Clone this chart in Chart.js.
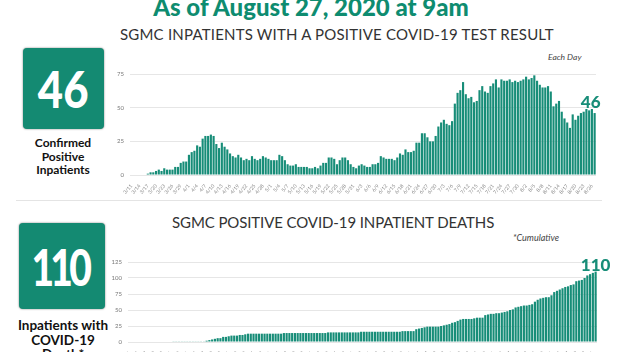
<!DOCTYPE html>
<html>
<head>
<meta charset="utf-8">
<script src="https://cdn.jsdelivr.net/npm/chart.js@4"></script>
<style>
  body { margin: 0; width: 622px; height: 352px; overflow: hidden; background: #fff; font-family: Lato, sans-serif; position: relative; }
  .abs { position: absolute; white-space: nowrap; }
  .box { position: absolute; background: #148a72; border-radius: 4px; box-shadow: 0 0 2px #777; color: #fff; font-weight: 900; text-align: center; }
  .box span { display: inline-block; }
  .cap { position: absolute; text-align: center; font-weight: 700; color: #111; }
  .sub { font-size: 15px; color: #333; }
  canvas { position: absolute; }
</style>
</head>
<body>
<div class="abs" style="left:0;width:622px;text-align:center;top:-5px;font-size:24px;font-weight:900;color:#0e8c70;line-height:24px;">As of August 27, 2020 at 9am</div>
<div class="abs sub" style="left:120px;width:426px;text-align:center;top:25px;letter-spacing:0.2px;">SGMC INPATIENTS WITH A POSITIVE COVID-19 TEST RESULT</div>
<div class="abs" style="left:548px;top:52px;font-size:8.5px;font-style:italic;color:#444;">Each Day</div>

<div class="box" style="left:23px;top:48px;width:81px;height:81px;font-size:52px;line-height:81px;"><span style="transform:scaleX(0.84);">46</span></div>
<div class="cap" style="left:13px;width:100px;top:136px;font-size:12px;line-height:13.5px;">Confirmed<br>Positive<br>Inpatients</div>

<div class="abs" style="left:16px;top:200px;width:586px;height:1px;background:#e4e4e4;"></div>

<div class="abs sub" style="left:172px;width:320px;text-align:center;top:213px;letter-spacing:-0.1px;">SGMC POSITIVE COVID-19 INPATIENT DEATHS</div>
<div class="abs" style="left:513px;top:232px;font-size:9px;font-style:italic;color:#444;">*Cumulative</div>

<div class="box" style="left:19px;top:223px;width:86px;height:86px;font-size:52px;line-height:86px;"><span style="letter-spacing:-5px;transform:scaleX(0.75);margin-left:-5px;">110</span></div>
<div class="cap" style="left:5px;width:116px;top:318px;font-size:13.5px;line-height:14.5px;">Inpatients with<br>COVID-19<br>Death*</div>

<canvas id="inpatients"></canvas>
<canvas id="deaths"></canvas>

<script>
// first day shown, number of days (through 8/27)
const startDate = new Date(2020, 2, 11);
const dayCount = 170;

const inpatients = [
    0, 0, 0, 0, 0, 0,
    1, 2, 2, 3, 4, 3, 5, 4, 4, 4,
    6, 6, 9, 10, 10, 15, 17, 18, 22, 21,
    27, 29, 29, 30, 29, 23, 20, 24, 21, 19,
    16, 14, 13, 15, 13, 11, 12, 11, 14, 12,
    11, 12, 14, 13, 12, 11, 11, 11, 15, 14,
    11, 8, 7, 7, 8, 6, 6, 6, 6, 5,
    5, 6, 5, 7, 9, 9, 13, 13, 12, 8,
    11, 13, 13, 11, 8, 6, 5, 7, 8, 7,
    6, 6, 8, 8,
    9,
    14, 13, 12, 12, 12, 11, 13, 16, 15,
    19, 17, 17, 18, 24, 24, 31, 31, 28, 25,
    25, 29, 36, 39, 41, 38, 37, 40, 53, 61,
    63, 69, 60, 57, 58, 54, 55, 63, 66, 62,
    61, 66, 68, 71, 65, 71, 70, 70, 71, 69,
    70, 69, 70, 71, 73, 71, 72, 74, 70, 67,
    65, 65, 66, 62, 51, 53, 55, 47, 42, 39,
    35, 45, 41, 44, 46, 47, 49, 48, 49, 46
];

const deaths = [
    0, 0, 0, 0, 0, 0, 0, 0, 0, 0, 0, 0, 0, 0, 0, 0,
    1, 1, 1, 1, 1, 1, 1, 1, 1, 1, 1, 1,
    2, 3, 4, 5, 6, 6, 8, 8, 9, 10, 10, 10, 11, 11, 12,
    13, 13, 13, 13, 13, 13, 13, 13, 13, 13, 13, 13, 13,
    14, 14, 14, 14, 14, 14, 14, 14, 14, 14, 14, 14, 14, 14, 14, 14,
    15, 15, 15, 15, 15, 15, 15, 15, 15, 15, 15, 15,
    16, 16, 16, 16, 16, 16, 16, 16, 16, 16, 16, 16, 16, 16, 16,
    17, 17, 17, 17, 17,
    20, 21, 22, 23, 24, 24, 24, 24, 24, 25, 26, 27, 28, 30, 31, 33,
    35, 36, 36, 36, 36, 37, 38, 38, 38, 42,
    43, 44, 44, 45, 45, 46, 47, 48, 50, 51, 54, 55, 56, 57, 57, 58, 59, 63, 66,
    68, 69, 70, 70, 73, 78, 80, 82, 84, 86, 87, 89, 90, 95, 96, 97, 100, 104, 106, 108, 110
];

const dayLabels = [];
for (let i = 0; i < dayCount; i++) {
    const d = new Date(startDate.getTime() + i * 86400000);
    dayLabels.push((d.getMonth() + 1) + '/' + d.getDate());
}

const teal = '#178d78';

// writes the last value above the last bar
const lastValueLabel = {
    id: 'lastValueLabel',
    afterDatasetsDraw(chart, args, opts) {
        const meta = chart.getDatasetMeta(0);
        const bar = meta.data[meta.data.length - 1];
        const ctx = chart.ctx;
        ctx.save();
        ctx.fillStyle = teal;
        ctx.font = '900 17px Lato';
        ctx.textAlign = 'center';
        ctx.textBaseline = 'alphabetic';
        ctx.fillText(opts.text, bar.x + opts.dx, bar.y + opts.dy);
        ctx.restore();
    }
};

function makeConfig(values, yMax, xHeight, pad, labelText, dx, dy) {
    return {
        type: 'bar',
        data: {
            labels: dayLabels,
            datasets: [
                {
                    data: values,
                    backgroundColor: teal,
                    barPercentage: 0.78,
                    categoryPercentage: 1.0
                }
            ]
        },
        options: {
            responsive: false,
            animation: false,
            layout: { padding: pad },
            plugins: {
                legend: { display: false },
                tooltip: { enabled: false },
                lastValueLabel: { text: labelText, dx: dx, dy: dy }
            },
            scales: {
                x: {
                    grid: { display: false },
                    border: { display: false },
                    afterFit: (s) => { s.height = xHeight; },
                    ticks: {
                        autoSkip: false,
                        minRotation: 50,
                        maxRotation: 50,
                        padding: 0,
                        font: { size: 5, family: 'Lato' },
                        color: '#888',
                        callback: (v, i) => (i % 3 === 0 ? dayLabels[i] : '')
                    }
                },
                y: {
                    min: 0,
                    max: yMax,
                    border: { display: false },
                    grid: { color: '#e6e6e6', lineWidth: 1, drawTicks: false },
                    afterFit: (s) => { s.width = 35; },
                    ticks: {
                        stepSize: 25,
                        padding: 6,
                        font: { size: 6, family: 'Lato' },
                        color: '#777'
                    }
                }
            }
        },
        plugins: [lastValueLabel]
    };
}

const c1 = document.getElementById('inpatients');
c1.width = 527; c1.height = 130;
c1.style.left = '95px'; c1.style.top = '64px';

const c2 = document.getElementById('deaths');
c2.width = 529; c2.height = 110;
c2.style.left = '93px'; c2.style.top = '252px';

new Chart(c1, makeConfig(inpatients, 75, 19, { top: 10, right: 26, bottom: 0, left: 0 }, '46', -4, -5));
new Chart(c2, makeConfig(deaths, 125, 20, { top: 10, right: 25, bottom: 0, left: 0 }, '110', 0, -1));
</script>
</body>
</html>
